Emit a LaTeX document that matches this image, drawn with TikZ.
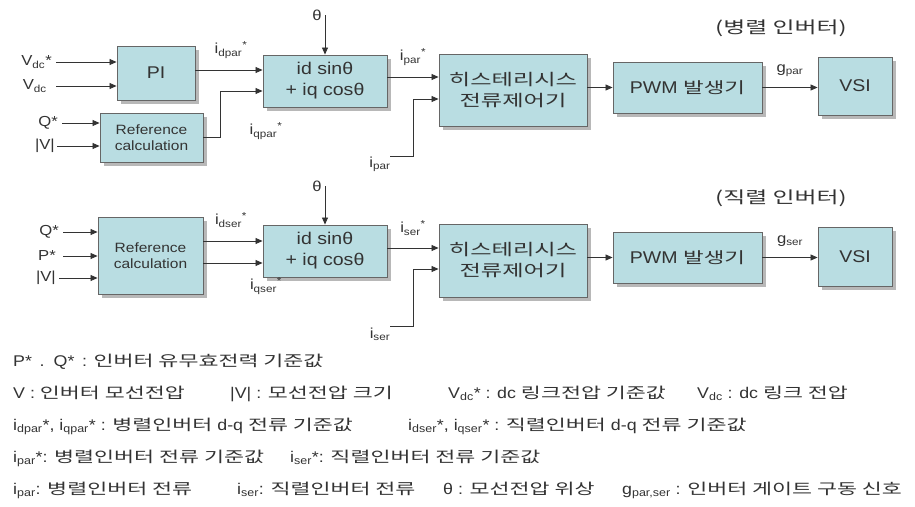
\documentclass[tikz,border=0pt]{standalone}
\usepackage{fontspec}
\setmainfont[FakeStretch=1.15]{Liberation Sans}
\newfontfamily\kr[FakeStretch=1.45]{Noto Sans CJK KR}
\newcommand\kor[1]{{\kr\fontsize{15}{17}\selectfont #1}}
\usetikzlibrary{arrows.meta,shadows}
\definecolor{boxc}{HTML}{B9DDE2}
\definecolor{ink}{HTML}{333333}
\begin{document}
\begin{tikzpicture}[x=1pt,y=-1pt,
  blk/.style={draw=black!60, line width=0.9pt, fill=boxc, align=center, inner sep=0pt, text=ink,
    drop shadow={shadow xshift=4pt, shadow yshift=-4pt, fill=black!28, opacity=1}},
  arr/.style={draw=ink, line width=0.8pt, -{Triangle[length=7pt,width=6pt]}},
  lab/.style={text=ink, inner sep=0pt, font=\fontsize{14.5}{16}\selectfont},
  lg/.style={text=ink, inner sep=0pt, anchor=base west, font=\fontsize{15.5}{17}\selectfont},
  bt/.style={font=\fontsize{17}{21}\selectfont},
  kt/.style={font=\kr\fontsize{16}{21}\selectfont},
  rt/.style={font=\fontsize{13.5}{16}\selectfont},
  tt/.style={text=ink, inner sep=0pt, font=\kr\fontsize{16.5}{19}\selectfont},
]
\fill[white] (0,0) rectangle (915,506);
\useasboundingbox (0,0) rectangle (915,506);

% ---------- top row (parallel inverter) ----------
\node[blk, bt, minimum width=78pt, minimum height=54pt] (pi) at (156,73) {PI};
\node[blk, rt, minimum width=103pt, minimum height=49pt] (ref1) at (151.5,137.5) {Reference\\calculation};
\node[blk, bt, minimum width=124pt, minimum height=52pt] (id1) at (325,81) {id sinθ\\+ iq cosθ};
\node[blk, kt, minimum width=148pt, minimum height=72pt] (hy1) at (513,90) {히스테리시스\\전류제어기};
\node[blk, bt, minimum width=149pt, minimum height=51pt] (pwm1) at (687.5,87.5) {PWM {\kr\fontsize{15.5}{19}\selectfont 발생기}};
\node[blk, bt, minimum width=74pt, minimum height=58pt] (vsi1) at (855,86) {VSI};

\node[lab, anchor=east] (vdcs) at (52,62) {V\textsubscript{dc}*};
\node[lab, anchor=east] (vdc) at (47,86) {V\textsubscript{dc}};
\node[lab, anchor=east] (qs1) at (58,123) {Q*};
\node[lab, anchor=east] (v1) at (55,146) {|V|};
\draw[arr] ([xshift=4pt]vdcs.east) -- (vdcs.east -| pi.west);
\draw[arr] ([xshift=9pt]vdc.east) -- (vdc.east -| pi.west);
\draw[arr] ([xshift=4pt]qs1.east) -- (qs1.east -| ref1.west);
\draw[arr] ([xshift=2pt]v1.east) -- (v1.east -| ref1.west);

\node[lab] (th1) at (317,15) {θ};
\draw[arr] (th1.east -| id1.north) -- (id1.north);

\draw[arr] ([yshift=3pt]pi.east) -- ([yshift=3pt]pi.east -| id1.west);
\draw[arr] (ref1.east) -- ++(17,0) |- ([yshift=-10pt]id1.west);
\node[lab] (idp) at (231,50) {i\textsubscript{dpar}\textsuperscript{*}};
\node[lab] (iqp) at (266,131) {i\textsubscript{qpar}\textsuperscript{*}};

\draw[arr] ([yshift=4pt]id1.east) -- ([yshift=4pt]id1.east -| hy1.west);
\node[lab] (ips) at (413,57) {i\textsubscript{par}\textsuperscript{*}};
\coordinate (ip1s) at (390,156);
\draw[arr] (ip1s) -- ++(23,0) |- ([yshift=-9pt]hy1.west);
\node[lab] (ip1) at (380,164) {i\textsubscript{par}};

\draw[arr] (hy1.east |- pwm1.west) -- (pwm1.west);
\draw[arr] (pwm1.east) -- (pwm1.east -| vsi1.west);
\node[lab] (gp) at (790,71) {g\textsubscript{par}};
\node[tt] (t1) at (781,28) {(병렬 인버터)};

% ---------- bottom row (series inverter) ----------
\node[blk, rt, minimum width=105pt, minimum height=77pt] (ref2) at (150.5,255.5) {Reference\\calculation};
\node[blk, bt, minimum width=124pt, minimum height=52pt] (id2) at (325,251) {id sinθ\\+ iq cosθ};
\node[blk, kt, minimum width=148pt, minimum height=73pt] (hy2) at (513,260.5) {히스테리시스\\전류제어기};
\node[blk, bt, minimum width=149pt, minimum height=51pt] (pwm2) at (687.5,257.5) {PWM {\kr\fontsize{15.5}{19}\selectfont 발생기}};
\node[blk, bt, minimum width=74pt, minimum height=59pt] (vsi2) at (855,256.5) {VSI};

\node[lab, anchor=east] (qs2) at (59,232) {Q*};
\node[lab, anchor=east] (ps2) at (56,256) {P*};
\node[lab, anchor=east] (v2) at (56,278) {|V|};
\draw[arr] ([xshift=4pt]qs2.east) -- (qs2.east -| ref2.west);
\draw[arr] ([xshift=7pt]ps2.east) -- (ps2.east -| ref2.west);
\draw[arr] ([xshift=3pt]v2.east) -- (v2.east -| ref2.west);

\node[lab] (th2) at (317,186) {θ};
\draw[arr] (th2.east -| id2.north) -- (id2.north);

\draw[arr] ([yshift=14.5pt]ref2.east) -- ([yshift=14.5pt]ref2.east -| id2.west);
\draw[arr] ([yshift=-7.5pt]ref2.east) -- ([yshift=-7.5pt]ref2.east -| id2.west);
\node[lab] (ids) at (231,220) {i\textsubscript{dser}\textsuperscript{*}};
\node[lab] (iqs) at (266,286) {i\textsubscript{qser}\textsuperscript{*}};

\draw[arr] ([yshift=3pt]id2.east) -- ([yshift=3pt]id2.east -| hy2.west);
\node[lab] (iss) at (413,228) {i\textsubscript{ser}\textsuperscript{*}};
\coordinate (is2s) at (390,326);
\draw[arr] (is2s) -- ++(23,0) |- ([yshift=-8.5pt]hy2.west);
\node[lab] (is2) at (380,334) {i\textsubscript{ser}};

\draw[arr] (hy2.east |- pwm2.west) -- (pwm2.west);
\draw[arr] (pwm2.east) -- (pwm2.east -| vsi2.west);
\node[lab] (gs) at (790,241) {g\textsubscript{ser}};
\node[tt] (t2) at (781,198) {(직렬 인버터)};

% ---------- legend ----------
\node[lg] (l1) at (13,366) {P* \,. \,Q* \,: \kor{인버터 유무효전력 기준값}};
\node[lg] (l2a) at (13,398) {V : \kor{인버터 모선전압}};
\node[lg] (l2b) at (230,398) {|V| : \kor{모선전압 크기}};
\node[lg] (l2c) at (448,398) {V\textsubscript{dc}* : dc \kor{링크전압 기준값}};
\node[lg] (l2d) at (697,398) {V\textsubscript{dc} : dc \kor{링크 전압}};
\node[lg] (l3a) at (13,430) {i\textsubscript{dpar}*, i\textsubscript{qpar}* : \kor{병렬인버터} d-q \kor{전류 기준값}};
\node[lg] (l3b) at (408,430) {i\textsubscript{dser}*, i\textsubscript{qser}* : \kor{직렬인버터} d-q \kor{전류 기준값}};
\node[lg] (l4a) at (13,462) {i\textsubscript{par}*: \kor{병렬인버터 전류 기준값}};
\node[lg] (l4b) at (290,462) {i\textsubscript{ser}*: \kor{직렬인버터 전류 기준값}};
\node[lg] (l5a) at (13,494) {i\textsubscript{par}: \kor{병렬인버터 전류}};
\node[lg] (l5b) at (237,494) {i\textsubscript{ser}: \kor{직렬인버터 전류}};
\node[lg] (l5c) at (443,494) {θ : \kor{모선전압 위상}};
\node[lg] (l5d) at (622,494) {g\textsubscript{par,ser} : \kor{인버터 게이트 구동 신호}};
\end{tikzpicture}
\end{document}
